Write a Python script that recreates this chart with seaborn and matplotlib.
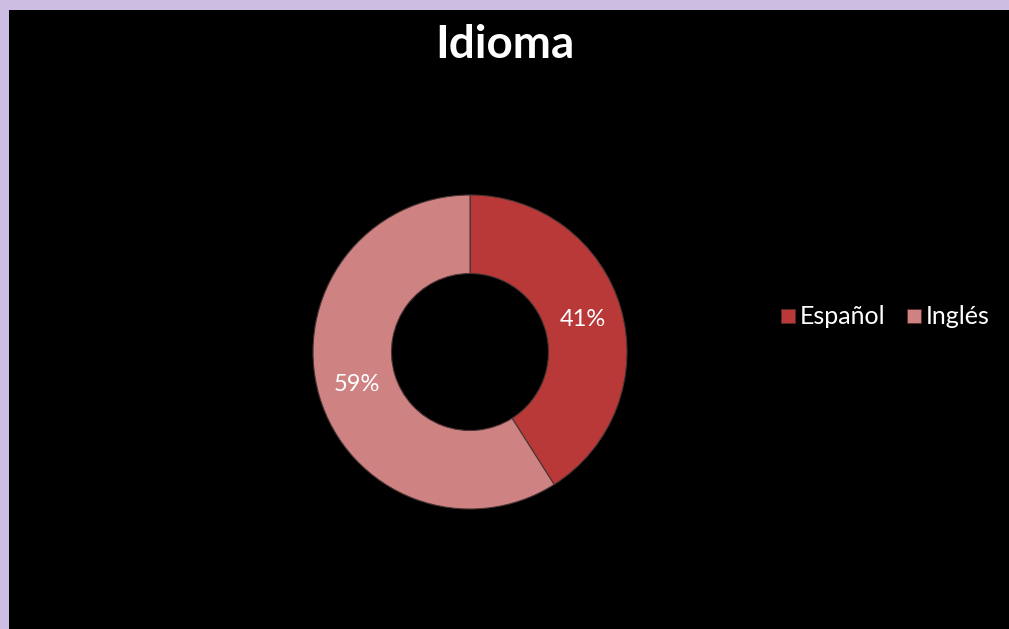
import matplotlib
matplotlib.use("Agg")
import matplotlib.pyplot as plt
from matplotlib.lines import Line2D
import seaborn as sns

categories = ["Español", "Inglés"]
values = [41, 59]
colors = ["#B93838", "#CF8282"]
title = "Idioma"

sns.set_style("dark")
plt.rcParams['font.family'] = ['Lato', 'DejaVu Sans']

W, H = 1009, 629
fig = plt.figure(figsize=(W / 100, H / 100), dpi=100)
fig.patch.set_facecolor("#CDBDE3")
bg = fig.add_axes([9 / W, 0, 1 - 9 / W, 1 - 10 / H])
bg.set_facecolor("black")
bg.set_xticks([])
bg.set_yticks([])
for s in bg.spines.values():
    s.set_visible(False)

cx, cy, r = 470, 352, 157
ax = fig.add_axes([(cx - r) / W, (H - cy - r) / H, 2 * r / W, 2 * r / H])
ax.set_facecolor("none")
wedges, texts, autotexts = ax.pie(
    values, colors=colors, startangle=90, counterclock=False,
    autopct=lambda p: f"{p:.0f}%", pctdistance=0.75, radius=1.0,
    wedgeprops=dict(width=0.5, edgecolor="#4a3434", linewidth=0.8),
    textprops=dict(color="white", fontsize=17))
ax.set_xlim(-1.0, 1.0)
ax.set_ylim(-1.0, 1.0)
ax.axis("off")

fig.text(505 / W, 1 - 45 / H, title, ha="center", va="center",
         fontsize=33, fontweight="bold", color="white")

handles = [Line2D([0], [0], marker="s", linestyle="none", markersize=10,
                  markerfacecolor=c, markeredgecolor="#5a2a2a", markeredgewidth=0.6)
           for c in colors]
leg = fig.legend(handles, categories, loc="center left",
                 bbox_to_anchor=(781 / W, 1 - 317 / H), ncol=2, frameon=False,
                 handlelength=0.55, handletextpad=0.2, columnspacing=0.85,
                 fontsize=18, labelcolor="white", borderaxespad=0, borderpad=0)

fig.savefig("out.png", dpi=100, facecolor=fig.get_facecolor())
